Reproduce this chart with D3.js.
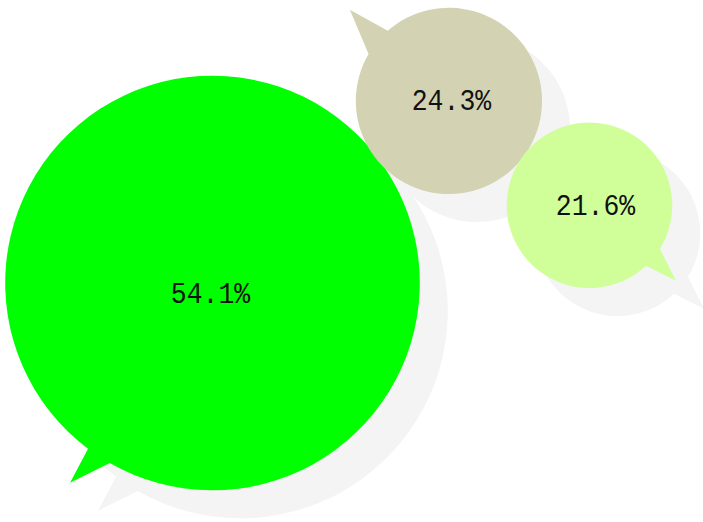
<!DOCTYPE html>
<html>
<head>
<meta charset="utf-8">
<script src="https://cdn.jsdelivr.net/npm/d3@7"></script>
<style>
  html, body { margin: 0; padding: 0; background: #ffffff; }
  svg { display: block; }
</style>
</head>
<body>
<svg id="chart" width="703" height="522"></svg>
<script>
// ---- data ----
const categories = ["A", "B", "C"];
const values = [54.1, 24.3, 21.6];
const valueLabels = ["54.1%", "24.3%", "21.6%"];
const colors = ["#00ff00", "#d3d3b4", "#d0ff9a"];

// ---- layout constants (style, not data) ----
const shadowOffset = [28, 28];
const shadowColor = "#f4f4f4";
const start = [212.5, 283];
const linkAngles = [-37.6, 36.6];   // direction from one bubble to the next
const linkOverlap = [2, 0.8];
// tail geometry: gap on circle [g0, g1] in degrees, tip angle and extra length
const tails = [
  { g0: 119.7, g1: 126.9, tip: 125.5, len: 38 },
  { g0: 210.3, g1: 228.9, tip: 222.6, len: 41.5 },
  { g0: 31.7,  g1: 47.0,  tip: 41.1,  len: 32 }
];
const labelOffsets = [[-2, 12], [2.5, 1.5], [6, 1.5]];

const rScale = d3.scaleLinear().domain([0, d3.max(values)]).range([0, 207.3]);
const rad = d => d * Math.PI / 180;

// compute centres: chain of tangent circles
const nodes = [];
values.forEach((v, i) => {
  const r = rScale(v);
  let cx, cy;
  if (i === 0) { [cx, cy] = start; }
  else {
    const p = nodes[i - 1];
    const d = p.r + r - linkOverlap[i - 1];
    const a = rad(linkAngles[i - 1]);
    cx = p.cx + d * Math.cos(a);
    cy = p.cy + d * Math.sin(a);
  }
  nodes.push({ cat: categories[i], value: v, label: valueLabels[i], color: colors[i], r, cx, cy, tail: tails[i], off: labelOffsets[i] });
});

function bubblePath(n, dx, dy) {
  const cx = n.cx + dx, cy = n.cy + dy, t = n.tail;
  const p = d3.path();
  const ta = rad(t.tip);
  p.moveTo(cx + (n.r + t.len) * Math.cos(ta), cy + (n.r + t.len) * Math.sin(ta));
  const a0 = rad(t.g1), a1 = rad(t.g0 + 360);
  p.lineTo(cx + n.r * Math.cos(a0), cy + n.r * Math.sin(a0));
  p.arc(cx, cy, n.r, a0, a1, false);
  p.closePath();
  return p.toString();
}

const svg = d3.select("#chart");

svg.append("g").attr("class", "shadows")
  .selectAll("path").data(nodes).join("path")
  .attr("d", d => bubblePath(d, shadowOffset[0], shadowOffset[1]))
  .attr("fill", shadowColor);

svg.append("g").attr("class", "bubbles")
  .selectAll("path").data(nodes).join("path")
  .attr("d", d => bubblePath(d, 0, 0))
  .attr("fill", d => d.color);

svg.append("g").attr("class", "labels")
  .selectAll("text").data(nodes).join("text")
  .attr("transform", d => `translate(${d.cx + d.off[0]},${d.cy + d.off[1]}) scale(1,1.12)`)
  .attr("text-anchor", "middle")
  .attr("dominant-baseline", "central")
  .attr("font-family", "'Liberation Mono', 'DejaVu Sans Mono', monospace")
  .attr("font-size", 26.5)
  .attr("fill", "#111")
  .text(d => d.label);
</script>
</body>
</html>
